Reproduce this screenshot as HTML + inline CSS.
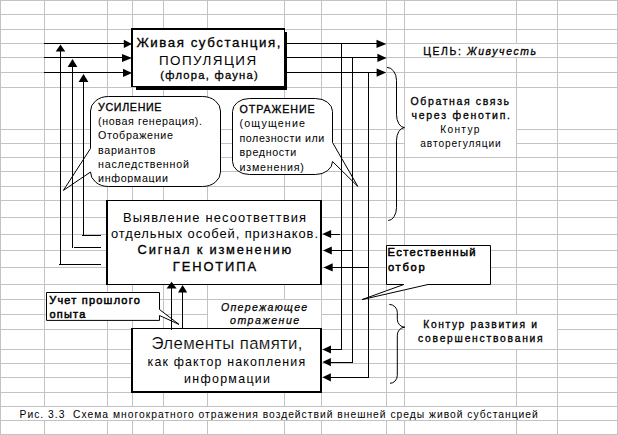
<!DOCTYPE html>
<html lang="ru"><head><meta charset="utf-8"><title>Рис. 3.3</title>
<style>html,body{margin:0;padding:0;background:#fff}body{width:618px;height:435px;overflow:hidden}svg{display:block}text{font-family:"Liberation Sans",sans-serif;fill:#000}.b{font-weight:normal;stroke:#000;stroke-width:.32px}.l{stroke:#000;stroke-width:.25px}.t{stroke:#fff;stroke-width:.18px}.i{font-style:italic}.B{stroke:#000;stroke-width:.5px}</style></head><body>
<svg width="618" height="435" viewBox="0 0 618 435">
<rect width="618" height="435" fill="#fff"/>
<g fill="#c3c3c3" shape-rendering="crispEdges">
<rect x="0" y="0" width="1" height="435"/>
<rect x="44" y="0" width="1" height="435"/>
<rect x="107" y="0" width="1" height="435"/>
<rect x="132" y="0" width="1" height="435"/>
<rect x="163" y="0" width="1" height="435"/>
<rect x="207" y="0" width="1" height="435"/>
<rect x="284" y="0" width="1" height="435"/>
<rect x="321" y="0" width="1" height="435"/>
<rect x="386" y="0" width="1" height="435"/>
<rect x="404" y="0" width="1" height="435"/>
<rect x="516" y="0" width="1" height="435"/>
<rect x="557" y="0" width="1" height="435"/>
<rect x="617" y="0" width="1" height="435"/>
<rect x="0" y="0" width="618" height="1"/>
<rect x="0" y="14" width="618" height="1"/>
<rect x="0" y="29" width="618" height="1"/>
<rect x="0" y="43" width="618" height="1"/>
<rect x="0" y="57" width="618" height="1"/>
<rect x="0" y="72" width="618" height="1"/>
<rect x="0" y="87" width="618" height="1"/>
<rect x="0" y="129" width="618" height="1"/>
<rect x="0" y="143" width="618" height="1"/>
<rect x="0" y="157" width="618" height="1"/>
<rect x="0" y="171" width="618" height="1"/>
<rect x="0" y="186" width="618" height="1"/>
<rect x="0" y="200" width="618" height="1"/>
<rect x="0" y="217" width="618" height="1"/>
<rect x="0" y="234" width="618" height="1"/>
<rect x="0" y="250" width="618" height="1"/>
<rect x="0" y="267" width="618" height="1"/>
<rect x="0" y="284" width="618" height="1"/>
<rect x="0" y="299" width="618" height="1"/>
<rect x="0" y="314" width="618" height="1"/>
<rect x="0" y="329" width="618" height="1"/>
<rect x="0" y="349" width="618" height="1"/>
<rect x="0" y="363" width="618" height="1"/>
<rect x="0" y="377" width="618" height="1"/>
<rect x="0" y="392" width="618" height="1"/>
<rect x="0" y="406" width="618" height="1"/>
<rect x="0" y="420" width="618" height="1"/>
<rect x="0" y="434" width="618" height="1"/>
</g>
<g fill="#fff" shape-rendering="crispEdges">
<rect x="405" y="88" width="111" height="69"/>
<rect x="405" y="44" width="152" height="13"/>
<rect x="208" y="300" width="113" height="29"/>
<rect x="405" y="315" width="152" height="34"/>
<rect x="1" y="407" width="556" height="13"/>
</g>
<path d="M108.5,96.5 L202.5,96.5 A18,14.5 0 0 1 220.5,111.0 L220.5,172.0 A18,14.5 0 0 1 202.5,186.5 L108.5,186.5 A18,14.5 0 0 1 90.5,172.0 L90.5,172 L63.4,190.4 L90.5,148.5 L90.5,111.0 A18,14.5 0 0 1 108.5,96.5 Z" fill="#fff" stroke="#000" stroke-width="1.0"/>
<path d="M249.5,98.5 L315.5,98.5 A17,13 0 0 1 332.5,111.5 L332.5,142.5 L357.8,186.4 L332.5,161.5 L332.5,161.5 A17,13 0 0 1 315.5,174.5 L249.5,174.5 A17,13 0 0 1 232.5,161.5 L232.5,111.5 A17,13 0 0 1 249.5,98.5 Z" fill="#fff" stroke="#000" stroke-width="1.0"/>
<path d="M386.5,245.5 L490.5,245.5 L490.5,284.5 L428,284.5 L362,299.6 L403.8,284.5 L386.5,284.5 Z" fill="#fff" stroke="#000" stroke-width="1.0"/>
<path d="M46.5,292.5 L159.5,292.5 L159.5,309.5 L179,324.4 L159.5,315.5 L159.5,320.4 L46.5,320.4 Z" fill="#fff" stroke="#000" stroke-width="1.0"/>
<g shape-rendering="crispEdges">
<rect x="136" y="32" width="151" height="58" fill="#000"/>
<rect x="131" y="28" width="154" height="59" fill="#000"/>
<rect x="133" y="30" width="151" height="56" fill="#fff"/>
<rect x="106" y="200" width="216" height="85" fill="#000"/>
<rect x="108" y="201" width="212" height="83" fill="#fff"/>
<rect x="131" y="328" width="191" height="65" fill="#000"/>
<rect x="133" y="329" width="187" height="62" fill="#fff"/>
</g>
<g fill="#000" shape-rendering="crispEdges">
<rect x="44" y="43" width="82" height="1"/>
<rect x="285" y="43" width="94" height="1"/>
<rect x="44" y="57" width="82" height="1"/>
<rect x="285" y="57" width="94" height="1"/>
<rect x="44" y="72" width="82" height="1"/>
<rect x="285" y="72" width="94" height="1"/>
<rect x="341" y="43" width="1" height="307"/>
<rect x="352" y="57" width="1" height="306"/>
<rect x="368" y="72" width="1" height="306"/>
<rect x="328" y="234" width="12" height="1"/>
<rect x="328" y="250" width="25" height="1"/>
<rect x="328" y="267" width="41" height="1"/>
<rect x="328" y="349" width="14" height="1"/>
<rect x="328" y="362" width="25" height="1"/>
<rect x="328" y="377" width="41" height="1"/>
<rect x="60" y="49" width="1" height="216"/>
<rect x="59" y="264" width="42" height="1"/>
<rect x="72" y="63" width="1" height="185"/>
<rect x="74" y="247" width="27" height="1"/>
<rect x="83" y="78" width="1" height="158"/>
<rect x="82" y="235" width="19" height="1"/>
<rect x="171" y="287" width="1" height="43"/>
<rect x="182" y="291" width="1" height="38"/>
</g>
<g stroke="#000" stroke-width="1" fill="none">
<path d="M387,67.4 A9.5,13 0 0 1 396.5,80.4 L396.5,114.6 A8,13 0 0 0 404.5,127.6 A8,13 0 0 0 396.5,140.6 L396.5,207.5 A8.3,13 0 0 1 388.2,220.5"/>
<path d="M389.3,304.4 A8,8 0 0 1 397.3,312.4 L397.3,319.2 A7.6,8 0 0 0 404.9,327.2 A7.6,8 0 0 0 397.3,335.2 L397.3,375.3 A7.3,8 0 0 1 390,383.3"/>
</g>
<g fill="#000">
<path d="M132,43.9 L123.8,39.8 L123.8,48.0 Z"/>
<path d="M132,58 L122,53.9 L122,62.1 Z"/>
<path d="M132,72.9 L123,68.80000000000001 L123,77.0 Z"/>
<path d="M386.3,43.9 L376.5,39.8 L376.5,48.0 Z"/>
<path d="M386.6,57.9 L377.40000000000003,53.8 L377.40000000000003,62.0 Z"/>
<path d="M386.2,72.6 L376.59999999999997,68.5 L376.59999999999997,76.69999999999999 Z"/>
<path d="M322.3,234 L331.1,229.9 L331.1,238.1 Z"/>
<path d="M323,250.5 L331.8,246.4 L331.8,254.6 Z"/>
<path d="M323.5,267.4 L332.7,263.29999999999995 L332.7,271.5 Z"/>
<path d="M322.3,349.5 L331.0,345.4 L331.0,353.6 Z"/>
<path d="M322.4,362.1 L330.9,358.0 L330.9,366.20000000000005 Z"/>
<path d="M322.4,377.3 L330.9,373.2 L330.9,381.40000000000003 Z"/>
<path d="M60.5,44.4 L55.7,51.6 L65.3,51.6 Z"/>
<path d="M72.5,59 L67.6,67 L77.4,67 Z"/>
<path d="M83.5,74 L78.6,82 L88.4,82 Z"/>
<path d="M171.6,281.8 L166.6,288.6 L176.6,288.6 Z"/>
<path d="M182.6,285 L178.0,292.6 L187.2,292.6 Z"/>
</g>
<text x="136.4" y="46.8" font-size="13.3" class="b" textLength="144" lengthAdjust="spacing">Живая субстанция,</text>
<text x="158.9" y="64.6" font-size="13.4" textLength="97.2" lengthAdjust="spacing">ПОПУЛЯЦИЯ</text>
<text x="160.3" y="78.9" font-size="11.2" class="b" textLength="97.4" lengthAdjust="spacing">(флора, фауна)</text>
<clipPath id="c1"><rect x="92" y="98" width="128" height="84.8"/></clipPath>
<text x="98" y="110.8" font-size="10.7" class="b" textLength="63.5" lengthAdjust="spacing">УСИЛЕНИЕ</text>
<text x="98" y="125.1" font-size="10.7" textLength="104" lengthAdjust="spacing">(новая генерация).</text>
<text x="98" y="139.4" font-size="10.7" textLength="74.9" lengthAdjust="spacing">Отображение</text>
<text x="98" y="153.6" font-size="10.7" textLength="57.4" lengthAdjust="spacing">вариантов</text>
<text x="98" y="167.9" font-size="10.7" textLength="90.9" lengthAdjust="spacing">наследственной</text>
<text x="98" y="182.2" font-size="10.7" textLength="69.9" lengthAdjust="spacing" clip-path="url(#c1)">информации</text>
<text x="239.5" y="112.8" font-size="10.7" class="b" textLength="75.2" lengthAdjust="spacing">ОТРАЖЕНИЕ</text>
<text x="239.5" y="127.0" font-size="10.7" textLength="65.5" lengthAdjust="spacing">(ощущение</text>
<text x="239.5" y="142.0" font-size="10.7" textLength="84.8" lengthAdjust="spacing">полезности или</text>
<text x="239.5" y="156.2" font-size="10.7" textLength="56.8" lengthAdjust="spacing">вредности</text>
<text x="239.5" y="170.5" font-size="10.7" textLength="64.4" lengthAdjust="spacing">изменения)</text>
<text x="423.2" y="54.5" font-size="10.4" class="b" textLength="112.8" lengthAdjust="spacing">ЦЕЛЬ: <tspan class="i">Живучесть</tspan></text>
<text x="410.5" y="104.7" font-size="10.5" class="b" textLength="98.6" lengthAdjust="spacing">Обратная связь</text>
<text x="411.4" y="118.8" font-size="10.5" class="b" textLength="98.6" lengthAdjust="spacing">через фенотип.</text>
<text x="440.3" y="132.5" font-size="10.2" textLength="39" lengthAdjust="spacing">Контур</text>
<text x="420.3" y="146.6" font-size="10.2" textLength="80.4" lengthAdjust="spacing">авторегуляции</text>
<text x="122.9" y="221.6" font-size="12.9" textLength="183.2" lengthAdjust="spacing">Выявление несоответтвия</text>
<text x="111" y="237.8" font-size="12.9" textLength="207" lengthAdjust="spacing">отдельных особей, признаков.</text>
<text x="137.6" y="254.4" font-size="12.9" class="b" textLength="153.5" lengthAdjust="spacing">Сигнал к изменению</text>
<text x="172.8" y="271.4" font-size="12.9" class="b" textLength="83.2" lengthAdjust="spacing">ГЕНОТИПА</text>
<text x="387.6" y="255.6" font-size="11.2" class="B" textLength="88" lengthAdjust="spacing">Естественный</text>
<text x="387.9" y="270.6" font-size="11.2" class="B" textLength="36.8" lengthAdjust="spacing">отбор</text>
<text x="49.2" y="303.9" font-size="11" class="B" textLength="90.6" lengthAdjust="spacing">Учет прошлого</text>
<text x="49.4" y="317.9" font-size="11" class="B" textLength="36" lengthAdjust="spacing">опыта</text>
<text x="221" y="310.5" font-size="10.6" class="l i" textLength="86.2" lengthAdjust="spacing">Опережающее</text>
<text x="230" y="324.3" font-size="10.6" class="l i" textLength="69.2" lengthAdjust="spacing">отражение</text>
<text x="423.3" y="327.7" font-size="10.3" class="b" textLength="113.6" lengthAdjust="spacing">Контур развития и</text>
<text x="418" y="341.7" font-size="10.3" class="b" textLength="124.7" lengthAdjust="spacing">совершенствования</text>
<text x="151.5" y="349.2" font-size="16.8" class="t" textLength="151" lengthAdjust="spacing">Элементы памяти,</text>
<text x="147.6" y="366.4" font-size="12.4" textLength="157.5" lengthAdjust="spacing">как фактор накопления</text>
<text x="184" y="383" font-size="12.4" textLength="86" lengthAdjust="spacing">информации</text>
<text x="19.6" y="417.5" font-size="10.3" textLength="518.2" lengthAdjust="spacing">Рис. 3.3&#160; Схема многократного отражения воздействий внешней среды живой субстанцией</text>
</svg></body></html>
